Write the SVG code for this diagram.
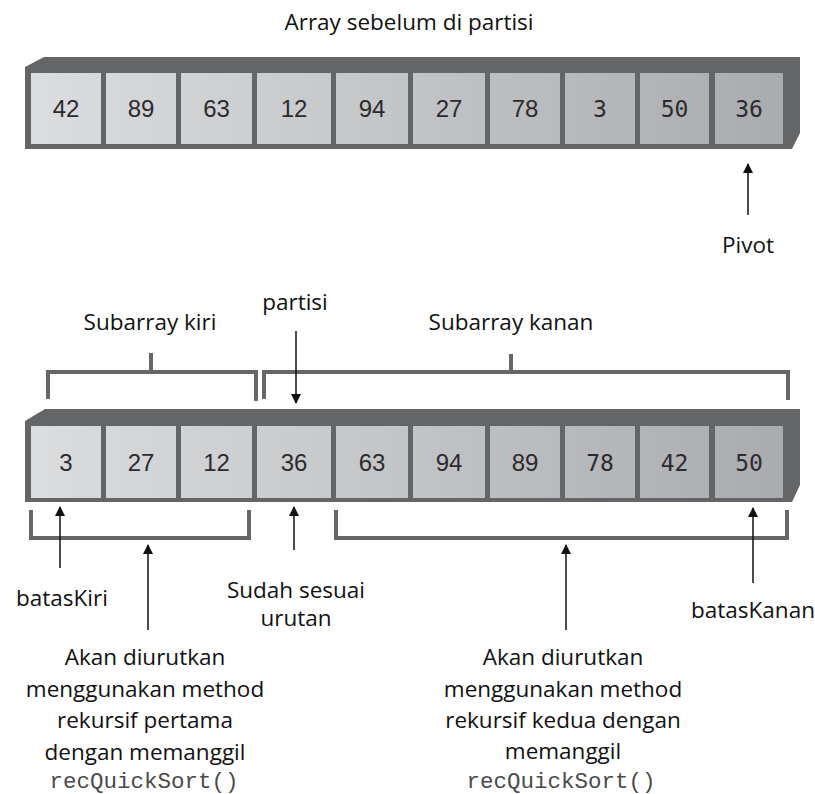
<svg xmlns="http://www.w3.org/2000/svg" width="815" height="794" viewBox="0 0 815 794">
  <defs>
    <linearGradient id="cellFill" gradientUnits="userSpaceOnUse" x1="25" y1="0" x2="800" y2="0">
      <stop offset="0" stop-color="#dcdddf"/>
      <stop offset="1" stop-color="#a9aaad"/>
    </linearGradient>
    <marker id="head" viewBox="0 0 10 14" refX="9" refY="7" markerWidth="10" markerHeight="14" markerUnits="userSpaceOnUse" orient="auto">
      <path d="M0,2 L10,7 L0,12 Z" fill="#111"/>
    </marker>
  </defs>
  <style>
    .frame { fill: #646567; }
    .cell { fill: url(#cellFill); }
    .num { font-family: "Liberation Sans", Arial, sans-serif; font-size: 24px; fill: #2b2b2e; text-anchor: middle; }
    .mono { font-family: "DejaVu Sans Mono", "Liberation Mono", monospace; font-size: 23px; fill: #2b2b2e; text-anchor: middle; }
    .label { font-family: "Open Sans", "Noto Sans", sans-serif; font-size: 22.5px; fill: #111; text-anchor: middle; }
    .code { font-family: "Liberation Mono", "Courier New", monospace; font-size: 22.5px; fill: #4a4a4a; text-anchor: middle; }
    .arrow { stroke: #111; stroke-width: 1.5; fill: none; marker-end: url(#head); }
    .bracket { stroke: #666; stroke-width: 4; fill: none; }
  </style>

  <rect width="815" height="794" fill="#fff"/>

  <!-- array before partitioning -->
  <g id="array-before">
    <text class="label" x="409" y="30">Array sebelum di partisi</text>
    <path class="frame" d="M25,67 L44,57 L800,57 L800,133 L792,149 L25,149 Z"/>
    <g id="a0"><rect class="cell" x="31" y="73" width="70" height="71"/><text class="num" x="66" y="117">42</text></g>
    <g id="a1"><rect class="cell" x="106" y="73" width="70" height="71"/><text class="num" x="141" y="117">89</text></g>
    <g id="a2"><rect class="cell" x="181" y="73" width="71" height="71"/><text class="num" x="216.5" y="117">63</text></g>
    <g id="a3"><rect class="cell" x="257" y="73" width="74" height="71"/><text class="num" x="294" y="117">12</text></g>
    <g id="a4"><rect class="cell" x="336" y="73" width="72" height="71"/><text class="num" x="372" y="117">94</text></g>
    <g id="a5"><rect class="cell" x="413" y="73" width="72" height="71"/><text class="num" x="449" y="117">27</text></g>
    <g id="a6"><rect class="cell" x="490" y="73" width="70" height="71"/><text class="num" x="525" y="117">78</text></g>
    <g id="a7"><rect class="cell" x="565" y="73" width="70" height="71"/><text class="mono" x="600" y="117">3</text></g>
    <g id="a8"><rect class="cell" x="640" y="73" width="69" height="71"/><text class="mono" x="674.5" y="117">50</text></g>
    <g id="a9"><rect class="cell" x="715" y="73" width="68" height="71"/><text class="mono" x="749" y="117">36</text></g>
  </g>

  <g id="pivot-label">
    <text class="label" x="748" y="253">Pivot</text>
  </g>

  <!-- array after partitioning -->
  <g id="array-after">
    <path class="frame" d="M25,421 L45,409 L800,409 L800,485 L792,502 L25,502 Z"/>
    <g id="b0"><rect class="cell" x="31" y="426" width="70" height="72"/><text class="num" x="66" y="471">3</text></g>
    <g id="b1"><rect class="cell" x="106" y="426" width="70" height="72"/><text class="num" x="141" y="471">27</text></g>
    <g id="b2"><rect class="cell" x="181" y="426" width="71" height="72"/><text class="num" x="216.5" y="471">12</text></g>
    <g id="b3"><rect class="cell" x="257" y="426" width="74" height="72"/><text class="num" x="294" y="471">36</text></g>
    <g id="b4"><rect class="cell" x="336" y="426" width="72" height="72"/><text class="num" x="372" y="471">63</text></g>
    <g id="b5"><rect class="cell" x="413" y="426" width="72" height="72"/><text class="num" x="449" y="471">94</text></g>
    <g id="b6"><rect class="cell" x="490" y="426" width="70" height="72"/><text class="num" x="525" y="471">89</text></g>
    <g id="b7"><rect class="cell" x="565" y="426" width="70" height="72"/><text class="mono" x="600" y="471">78</text></g>
    <g id="b8"><rect class="cell" x="640" y="426" width="69" height="72"/><text class="mono" x="674.5" y="471">42</text></g>
    <g id="b9"><rect class="cell" x="715" y="426" width="68" height="72"/><text class="mono" x="749" y="471">50</text></g>
  </g>

  <g id="sub-left-label"><text class="label" x="150" y="330">Subarray kiri</text></g>
  <g id="partisi-label"><text class="label" x="295" y="310">partisi</text></g>
  <g id="sub-right-label"><text class="label" x="511" y="330">Subarray kanan</text></g>
  <g id="bataskiri-label"><text class="label" x="62" y="606">batasKiri</text></g>
  <g id="sorted-label">
    <text class="label" x="296" y="598">Sudah sesuai</text>
    <text class="label" x="296" y="626">urutan</text>
  </g>
  <g id="bataskanan-label"><text class="label" x="753" y="618">batasKanan</text></g>

  <g id="first-recursion-note">
    <text class="label" x="145" y="665">Akan diurutkan</text>
    <text class="label" x="145" y="697">menggunakan method</text>
    <text class="label" x="145" y="728">rekursif pertama</text>
    <text class="label" x="145" y="760">dengan memanggil</text>
    <text class="code" x="144" y="788">recQuickSort()</text>
  </g>

  <g id="second-recursion-note">
    <text class="label" x="563" y="665">Akan diurutkan</text>
    <text class="label" x="563" y="697">menggunakan method</text>
    <text class="label" x="563" y="728">rekursif kedua dengan</text>
    <text class="label" x="563" y="759">memanggil</text>
    <text class="code" x="561" y="788">recQuickSort()</text>
  </g>

  <!-- brackets and arrows -->
  <g id="connectors">
    <path class="bracket" d="M48,399 V372 H256 V401 M151,353 V372"/>
    <path class="bracket" d="M264,399 V372 H788 V400 M511,354 V372"/>
    <path class="bracket" d="M31,510 V538 H249 V510"/>
    <path class="bracket" d="M336,510 V538 H787 V510"/>

    <line class="arrow" x1="748" y1="215" x2="748" y2="164"/>
    <line class="arrow" x1="296" y1="331" x2="296" y2="403"/>
    <line class="arrow" x1="60" y1="568" x2="60" y2="507"/>
    <line class="arrow" x1="148" y1="630" x2="148" y2="545"/>
    <line class="arrow" x1="294" y1="550" x2="294" y2="507"/>
    <line class="arrow" x1="566" y1="630" x2="566" y2="545"/>
    <line class="arrow" x1="753" y1="583" x2="753" y2="508"/>
  </g>
</svg>
